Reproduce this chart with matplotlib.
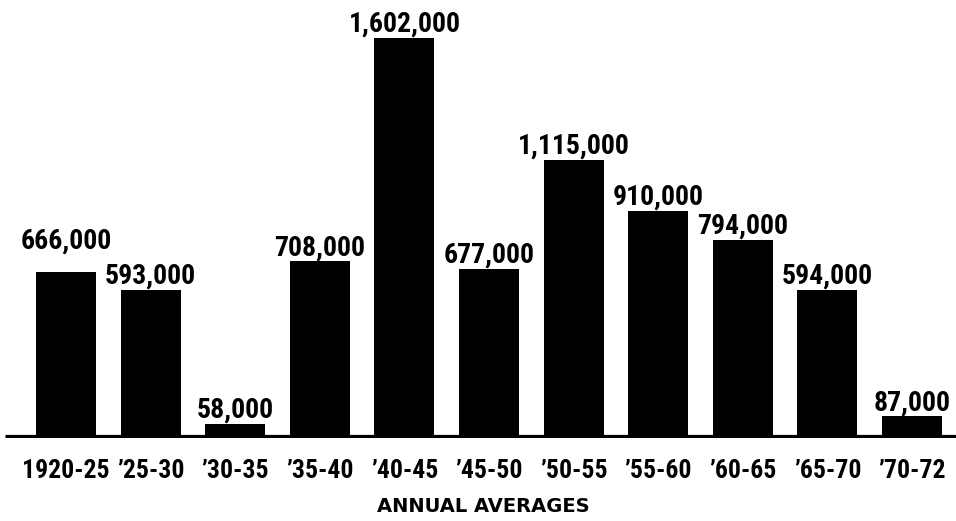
import matplotlib
matplotlib.use("Agg")
import matplotlib.pyplot as plt

periods = ["1920-25", "\u201925-30", "\u201930-35", "\u201935-40", "\u201940-45", "\u201945-50",
           "\u201950-55", "\u201955-60", "\u201960-65", "\u201965-70", "\u201970-72"]
values = [666000, 593000, 58000, 708000, 1602000, 677000, 1115000, 910000, 794000, 594000, 87000]
value_labels = ["666,000", "593,000", "58,000", "708,000", "1,602,000", "677,000",
                "1,115,000", "910,000", "794,000", "594,000", "87,000"]
xlabel_text = "ANNUAL AVERAGES"

narrow = ["Roboto Condensed", "PT Sans Narrow", "DejaVu Sans"]

W, H = 956, 521
fig = plt.figure(figsize=(W / 100, H / 100), dpi=100)
base_px = 438  # baseline from top
ax = fig.add_axes([0, (H - base_px) / H, 1, base_px / H])
ax.set_axis_off()

spacing = 84.6
first_center = 66
n = len(values)
x = list(range(n))
ax.set_xlim(-first_center / spacing, -first_center / spacing + W / spacing)
top_px = 38
ymax = values[4] * base_px / (base_px - top_px)
ax.set_ylim(0, ymax)

ax.bar(x, values, width=0.71, color="black", zorder=2)
ax.axhline(0, xmin=5 / W, xmax=1, color="black", linewidth=5.2, zorder=3,
           solid_capstyle="butt")

for i, (xi, v, lab) in enumerate(zip(x, values, value_labels)):
    lift_px = 23 if i == 0 else 6
    ax.annotate(lab, (xi, v), xytext=(0, lift_px * 0.72), textcoords="offset points",
                ha="center", va="baseline", fontsize=20, fontweight="bold",
                family=narrow, color="black")

trans = ax.get_xaxis_transform()
for xi, p in zip(x, periods):
    ax.text(xi, -(478 - base_px) / base_px, p, transform=trans, ha="center", va="baseline",
            fontsize=18.5, fontweight="bold", family=narrow, color="black",
            clip_on=False)

fig.text(483 / W, 1 - 512 / H, xlabel_text, ha="center", va="baseline",
         fontsize=14, fontweight="bold", family=["DejaVu Sans"], color="black")

fig.savefig("out.png", dpi=100, facecolor="white")
